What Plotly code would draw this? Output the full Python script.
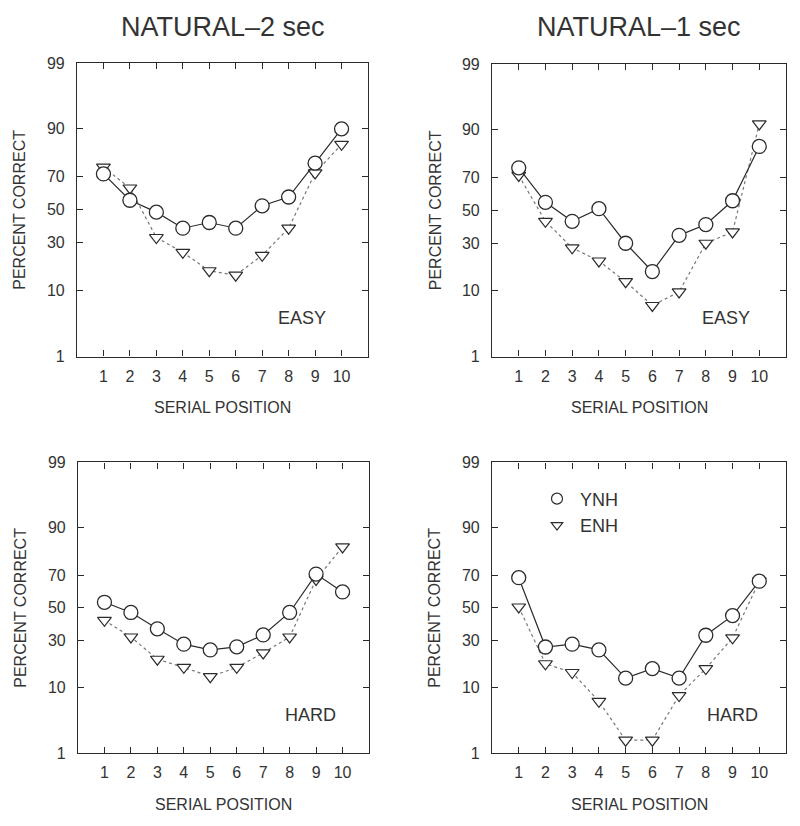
import plotly.graph_objects as go
from statistics import NormalDist

# serial positions 1..10
positions = list(range(1, 11))

# percent correct (probit y scale)
ynh_2sec_easy = [71.5, 56, 48.5, 38.5, 42, 38.5, 52.5, 58, 77, 90]
enh_2sec_easy = [75, 63.5, 33, 25, 16.7, 15, 23.5, 38.5, 72, 85]

ynh_1sec_easy = [75, 55, 43, 51, 30, 16.5, 34.5, 41, 56, 84.5]
enh_1sec_easy = [71, 43, 27.5, 21, 12.8, 6.5, 9.7, 30, 36.5, 91.5]

ynh_2sec_hard = [53.5, 47, 36.8, 28, 25, 26.6, 33.2, 47, 70.5, 60]
enh_2sec_hard = [42, 32, 20.5, 17, 13.5, 17, 23.5, 32, 67.5, 83.5]

ynh_1sec_hard = [68.5, 26.5, 28, 25, 13, 16.5, 13, 33, 45, 66.5]
enh_1sec_hard = [50.5, 18.5, 15, 6.7, 1.7, 1.7, 8, 16.5, 31.5, 66.5]

y_ticks = [1, 10, 30, 50, 70, 90, 99]
col_titles = ["NATURAL\u20132 sec", "NATURAL\u20131 sec"]

INK = "#2b2b2b"
TXT = "#333333"
FONT = "Liberation Sans"


def probit(pcts):
    nd = NormalDist()
    return [nd.inv_cdf(p / 100.0) for p in pcts]


# page offsets seen in the rendered page (body margin etc.)
W, H = 800, 826
X0, Y0, HV = 8, 16, 810


def px_x(v):
    return (v - X0) / W


def px_y(v):
    return 1 - (v - Y0) / HV


# panel frames in page pixels: (left, right, top, bottom)
panels = [
    dict(ynh=ynh_2sec_easy, enh=enh_2sec_easy, box=(77, 368, 63, 357), label="EASY", lx=8.5),
    dict(ynh=ynh_1sec_easy, enh=enh_1sec_easy, box=(492, 786, 64, 357), label="EASY", lx=8.75),
    dict(ynh=ynh_2sec_hard, enh=enh_2sec_hard, box=(78, 369, 463, 754), label="HARD", lx=8.8),
    dict(ynh=ynh_1sec_hard, enh=enh_1sec_hard, box=(492, 786, 463, 754), label="HARD", lx=9.0),
]

fig = go.Figure()
annotations = []
ylo, yhi = probit([1, 99])

for i, p in enumerate(panels, start=1):
    xa = "x" if i == 1 else f"x{i}"
    ya = "y" if i == 1 else f"y{i}"
    left, right, top, bottom = p["box"]

    fig.add_trace(go.Scatter(
        x=positions, y=probit(p["enh"]), xaxis=xa, yaxis=ya,
        mode="lines+markers", showlegend=False,
        line=dict(color="#777777", width=1.2, dash="dot"),
        marker=dict(symbol="triangle-down", size=12, color="white",
                    line=dict(color=INK, width=1.2)),
    ))
    fig.add_trace(go.Scatter(
        x=positions, y=probit(p["ynh"]), xaxis=xa, yaxis=ya,
        mode="lines+markers", showlegend=False,
        line=dict(color=INK, width=1.2),
        marker=dict(symbol="circle", size=14, color="white",
                    line=dict(color=INK, width=1.3)),
    ))

    axis_common = dict(
        showline=True, linecolor=INK, linewidth=1.2, mirror="ticks",
        ticks="inside", ticklen=6, tickwidth=1.1, tickcolor=INK,
        showgrid=False, zeroline=False,
        tickfont=dict(family=FONT, size=16, color=TXT),
    )
    fig.layout[f"xaxis{'' if i == 1 else i}"] = dict(
        axis_common, domain=[px_x(left), px_x(right)], range=[0, 11],
        tickvals=positions, anchor=ya, ticklabelstandoff=5,
    )
    fig.layout[f"yaxis{'' if i == 1 else i}"] = dict(
        axis_common, domain=[px_y(bottom), px_y(top)], range=[ylo, yhi],
        tickvals=probit(y_ticks), ticktext=[str(t) for t in y_ticks],
        anchor=xa, ticklabelstandoff=8,
    )

    # EASY / HARD tag
    annotations.append(dict(
        x=p["lx"], y=-1.71, xref=xa, yref=ya, text=p["label"], showarrow=False,
        xanchor="center", yanchor="middle",
        font=dict(family=FONT, size=18, color=TXT),
    ))
    # axis titles
    annotations.append(dict(
        x=px_x((left + right) / 2), y=px_y(bottom + 51), xref="paper", yref="paper",
        text="SERIAL POSITION", showarrow=False, xanchor="center", yanchor="middle",
        font=dict(family=FONT, size=16, color=TXT),
    ))
    annotations.append(dict(
        x=px_x(left - 57), y=px_y((top + bottom) / 2), xref="paper", yref="paper",
        text="PERCENT CORRECT", showarrow=False, textangle=-90,
        xanchor="center", yanchor="middle",
        font=dict(family=FONT, size=16, color=TXT),
    ))

# column titles
for title, (left, right) in zip(col_titles, [(77, 368), (492, 786)]):
    annotations.append(dict(
        x=px_x((left + right) / 2), y=px_y(27), xref="paper", yref="paper",
        text=title, showarrow=False, xanchor="center", yanchor="middle",
        font=dict(family=FONT, size=27, color=TXT),
    ))

# legend entries (symbols only) shown in the lower right panel
fig.add_trace(go.Scatter(
    x=[None], y=[None], xaxis="x4", yaxis="y4", mode="markers", name="YNH",
    marker=dict(symbol="circle", size=11, color="white", line=dict(color=INK, width=1.2)),
))
fig.add_trace(go.Scatter(
    x=[None], y=[None], xaxis="x4", yaxis="y4", mode="markers", name="ENH",
    marker=dict(symbol="triangle-down", size=10, color="white", line=dict(color=INK, width=1.2)),
))

fig.update_layout(
    width=W, height=H,
    margin=dict(l=0, r=0, t=0, b=0),
    paper_bgcolor="white", plot_bgcolor="white",
    annotations=annotations,
    legend=dict(
        x=px_x(534), y=px_y(481), xanchor="left", yanchor="top",
        itemwidth=36, bgcolor="rgba(0,0,0,0)",
        font=dict(family=FONT, size=18, color=TXT),
    ),
)

fig.write_html("out.html")
